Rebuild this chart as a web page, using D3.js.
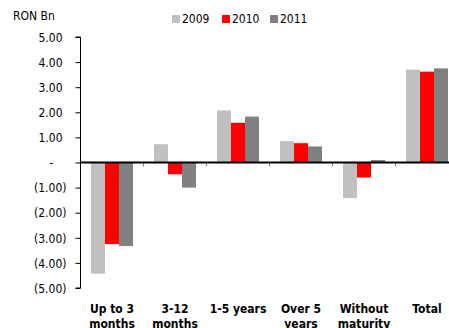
<!DOCTYPE html>
<html>
<head>
<meta charset="utf-8">
<script src="https://cdn.jsdelivr.net/npm/d3@7/dist/d3.min.js"></script>
<style>
  html, body { margin: 0; padding: 0; background: #fff; overflow: hidden; }
  svg { display: block; font-family: "DejaVu Sans Condensed", "DejaVu Sans", sans-serif; }
</style>
</head>
<body>
<svg id="chart" width="449" height="328"></svg>
<script>
// Maturity buckets (two-line labels)
const categories = ["Up to 3 months", "3-12 months", "1-5 years", "Over 5 years", "Without maturity", "Total"];
const categoryLines = [["Up to 3", "months"], ["3-12", "months"], ["1-5 years"], ["Over 5", "years"], ["Without", "maturity"], ["Total"]];
const years = ["2009", "2010", "2011"];
const values2009 = [-4.43, 0.73, 2.08, 0.85, -1.42, 3.70];
const values2010 = [-3.25, -0.47, 1.58, 0.77, -0.60, 3.62];
const values2011 = [-3.33, -1.00, 1.83, 0.64, 0.10, 3.75];
const yTicks = [5, 4, 3, 2, 1, 0, -1, -2, -3, -4, -5];
const colors = ["#c0c0c0", "#ff0000", "#808080"];

const seriesValues = [values2009, values2010, values2011];

const svg = d3.select("#chart");
const plotLeft = 80.5, plotRight = 458.5, plotTop = 37, plotBottom = 288;

const y = d3.scaleLinear().domain([-5, 5]).range([plotBottom, plotTop]);
const x0 = d3.scaleBand().domain(categories).range([plotLeft, plotRight]).paddingInner(0).paddingOuter(0);
const x1 = d3.scaleBand().domain(years).range([0, x0.bandwidth()]).paddingInner(0).paddingOuter(0.75);
const color = d3.scaleOrdinal().domain(years).range(colors);

// Bars
const groups = svg.append("g").selectAll("g")
  .data(categories)
  .join("g")
  .attr("transform", d => `translate(${x0(d)},0)`);

groups.selectAll("rect")
  .data((c, i) => years.map((yr, k) => ({ yr, v: seriesValues[k][i] })))
  .join("rect")
  .attr("x", d => x1(d.yr))
  .attr("width", x1.bandwidth())
  .attr("y", d => y(Math.max(0, d.v)))
  .attr("height", d => Math.abs(y(d.v) - y(0)))
  .attr("fill", d => color(d.yr));

// Y axis
const fmt = v => v === 0 ? "-" : v > 0 ? d3.format(".2f")(v) : "(" + d3.format(".2f")(-v) + ")";
const yAxis = svg.append("g")
  .attr("transform", `translate(${plotLeft},0)`)
  .call(d3.axisLeft(y).tickValues(yTicks).tickSize(5).tickPadding(0).tickFormat(fmt));
yAxis.select(".domain").attr("stroke", "#000").attr("d", `M-5,${y(5)}H0V${y(-5)}H-5`);
yAxis.selectAll(".tick line").attr("stroke", "#000");
yAxis.selectAll(".tick text")
  .attr("font-size", 12)
  .attr("fill", "#000")
  .attr("font-family", "'DejaVu Sans Condensed', 'DejaVu Sans', sans-serif")
  .attr("x", d => d > 0 ? -18 : d < 0 ? -14 : -27)
  .attr("dy", "0.35em");

// Zero baseline with category separators
const xAxis = svg.append("g").attr("transform", `translate(0,${y(0)})`);
xAxis.selectAll("line.sep")
  .data(categories.slice(1))
  .join("line")
  .attr("class", "sep")
  .attr("x1", d => x0(d)).attr("x2", d => x0(d))
  .attr("y1", 0).attr("y2", 4)
  .attr("stroke", "#808080");
xAxis.append("line")
  .attr("x1", plotLeft).attr("x2", plotRight)
  .attr("y1", 0).attr("y2", 0)
  .attr("stroke", "#000").attr("stroke-width", 2);

// Category labels
const labels = svg.append("g")
  .attr("font-size", 12)
  .attr("font-weight", "bold")
  .attr("text-anchor", "middle")
  .attr("fill", "#000");
labels.selectAll("text")
  .data(categories)
  .join("text")
  .attr("x", d => x0(d) + x0.bandwidth() / 2)
  .attr("y", 313)
  .each(function(d, i) {
    const t = d3.select(this);
    categoryLines[i].forEach((line, j) => {
      t.append("tspan").attr("x", x0(d) + x0.bandwidth() / 2).attr("dy", j === 0 ? 0 : 15).text(line);
    });
  });

// Unit label
svg.append("text")
  .attr("x", 13).attr("y", 20)
  .attr("font-size", 12)
  .attr("fill", "#000")
  .text("RON Bn");

// Legend
const legendX = [172, 222, 270];
const legend = svg.append("g").selectAll("g")
  .data(years)
  .join("g")
  .attr("transform", (d, i) => `translate(${legendX[i]},15)`);
legend.append("rect").attr("width", 8).attr("height", 8).attr("fill", d => color(d));
legend.append("text")
  .attr("x", 10).attr("y", 8)
  .attr("font-size", 12)
  .attr("fill", "#000")
  .text(d => d);
</script>
</body>
</html>
